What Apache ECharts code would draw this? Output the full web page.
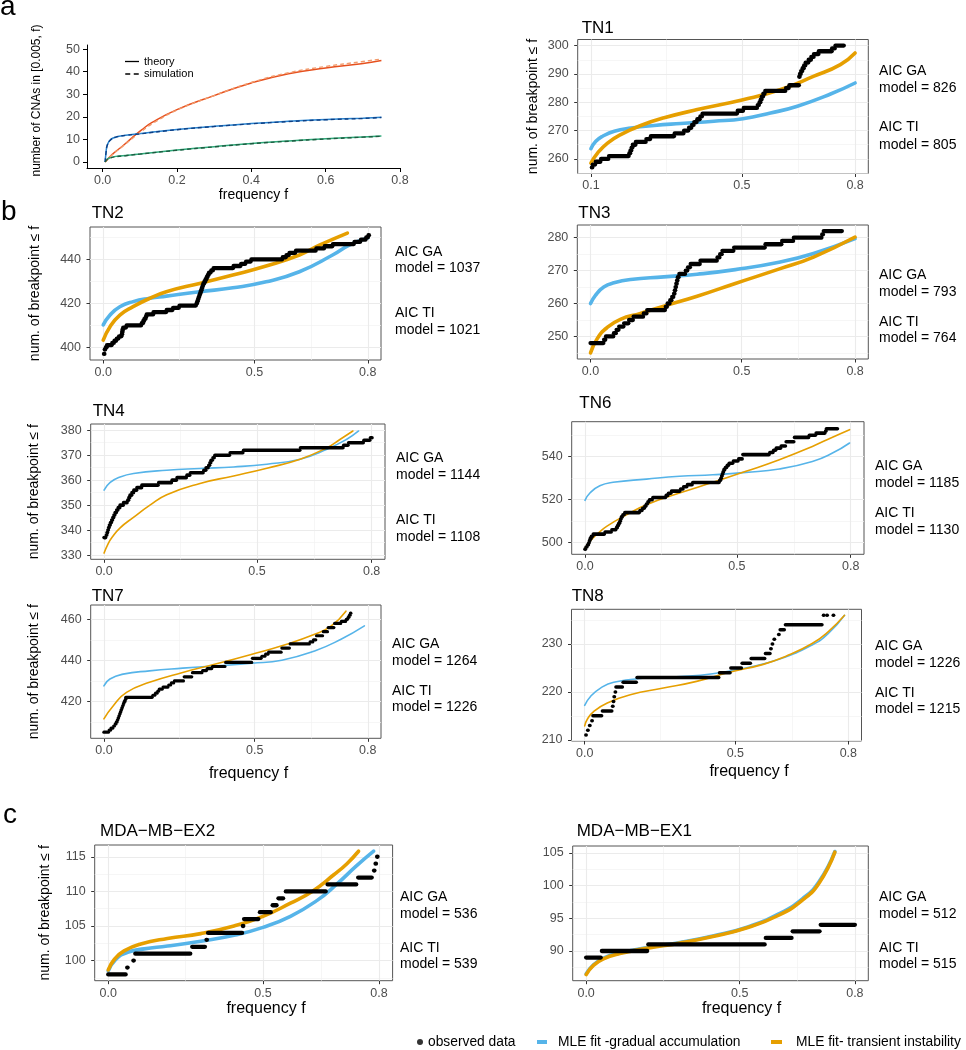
<!DOCTYPE html>
<html><head><meta charset="utf-8">
<script src="https://cdn.jsdelivr.net/npm/echarts@6/dist/echarts.min.js"></script>
<style>html,body{margin:0;padding:0;background:#fff}#c{width:966px;height:1050px}</style>
</head><body><div id="c"></div>
<script>
// ================= DATA =================
// ---- panel a ----
const aXTicks = [0, 0.2, 0.4, 0.6, 0.8];
const aYTicks = [0, 10, 20, 30, 40, 50];
const aTheoryOrange = [[0.007,0],[0.026,3.4],[0.053,7],[0.079,10.7],[0.105,14.2],[0.132,17.4],[0.2,23.2],[0.3,29.4],[0.4,35],[0.5,39.1],[0.6,41.6],[0.696,43.5],[0.75,44.9]];
const aSimOrange    = [[0.007,0],[0.026,3.2],[0.053,6.8],[0.079,10.3],[0.105,13.6],[0.132,16.8],[0.2,23],[0.3,29.4],[0.4,35.2],[0.5,39.5],[0.6,42.3],[0.696,44.4],[0.75,45.6]];
const aTheoryBlue   = [[0.007,0],[0.009,4],[0.013,7.8],[0.022,10],[0.035,11],[0.062,11.8],[0.097,12.5],[0.2,14.4],[0.3,15.8],[0.4,17],[0.5,18],[0.6,18.8],[0.7,19.4],[0.75,19.8]];
const aSimBlue      = [[0.007,0],[0.009,3.8],[0.013,7.6],[0.022,9.9],[0.035,11],[0.062,11.8],[0.097,12.4],[0.2,14.3],[0.3,15.7],[0.4,16.9],[0.5,17.9],[0.6,18.7],[0.7,19.3],[0.75,19.7]];
const aTheoryGreen  = [[0.007,0],[0.018,1.8],[0.062,2.9],[0.1,3.6],[0.2,5.3],[0.3,6.8],[0.4,8.2],[0.5,9.3],[0.6,10.3],[0.7,11.1],[0.75,11.5]];
const aSimGreen     = [[0.007,0],[0.018,1.7],[0.062,2.8],[0.1,3.5],[0.2,5.2],[0.3,6.7],[0.4,8.1],[0.5,9.2],[0.6,10.2],[0.7,11],[0.75,11.4]];

// ---- panels b / c : shared frequency ticks ----
const fTicks = [0.1, 0.5, 0.8];
const fTickLabelsTN1 = ['0.1', '0.5', '0.8'];
const fTickLabels = ['0.0', '0.5', '0.8'];
const fMinor = [0.3, 0.65];

// observed data: [f start, f end, count] runs of dots
const tn1YTicks = [260, 270, 280, 290, 300];
const tn1Obs = [[0.1026,0.1026,257],[0.105,0.111,258],[0.113,0.125,259],[0.127,0.146,260],[0.148,0.2,261],[0.202,0.204,262],[0.205,0.207,263],[0.208,0.21,264],[0.211,0.218,265],[0.219,0.245,266],[0.247,0.257,267],[0.259,0.32,268],[0.322,0.345,269],[0.347,0.358,270],[0.36,0.366,271],[0.368,0.372,272],[0.374,0.38,273],[0.382,0.388,274],[0.39,0.394,275],[0.396,0.487,276],[0.489,0.503,277],[0.505,0.54,278],[0.542,0.545,279],[0.547,0.549,280],[0.55,0.552,281],[0.553,0.556,282],[0.557,0.56,283],[0.562,0.615,284],[0.617,0.624,285],[0.626,0.651,286],[0.652,0.653,289],[0.654,0.656,290],[0.657,0.66,291],[0.661,0.664,292],[0.665,0.668,293],[0.669,0.676,294],[0.677,0.683,295],[0.684,0.69,296],[0.691,0.703,297],[0.704,0.738,298],[0.739,0.746,299],[0.748,0.77,300]];
const tn1GA = [[0.1,263.6],[0.113,266.2],[0.131,268],[0.162,269.8],[0.206,270.9],[0.2675,271.8],[0.338,272.5],[0.426,273.3],[0.503,274.2],[0.576,276.2],[0.647,278.6],[0.735,282.9],[0.8,286.8]];
const tn1TI = [[0.1,258.5],[0.118,262.1],[0.144,265.6],[0.179,268.6],[0.232,271.8],[0.294,274.5],[0.382,277.4],[0.503,280.9],[0.603,284.5],[0.691,289.2],[0.761,293.3],[0.8,297.4]];
const tn1AIC = ['AIC GA', 'model = 826', 'AIC TI', 'model = 805'];

const tn2YTicks = [400, 420, 440];
const tn2Obs = [[0.102,0.102,397],[0.104,0.105,399],[0.107,0.109,400],[0.11,0.122,401],[0.124,0.128,402],[0.13,0.134,403],[0.136,0.14,404],[0.142,0.148,405],[0.149,0.149,406],[0.15,0.15,407],[0.151,0.152,408],[0.153,0.16,409],[0.162,0.2,410],[0.202,0.205,411],[0.206,0.208,412],[0.209,0.212,413],[0.213,0.214,414],[0.215,0.232,415],[0.233,0.266,416],[0.268,0.283,417],[0.285,0.3,418],[0.302,0.345,419],[0.347,0.348,420],[0.349,0.35,421],[0.351,0.352,422],[0.353,0.354,423],[0.355,0.356,424],[0.357,0.358,425],[0.359,0.36,426],[0.361,0.362,427],[0.363,0.364,428],[0.365,0.367,429],[0.368,0.37,430],[0.371,0.373,431],[0.374,0.376,432],[0.377,0.379,433],[0.38,0.384,434],[0.386,0.39,435],[0.392,0.443,436],[0.445,0.463,437],[0.465,0.476,438],[0.478,0.49,439],[0.492,0.573,440],[0.575,0.583,441],[0.585,0.591,442],[0.593,0.608,443],[0.61,0.662,444],[0.664,0.684,445],[0.686,0.706,446],[0.708,0.763,447],[0.765,0.78,448],[0.782,0.794,449],[0.796,0.8,450],[0.802,0.802,451]];
const tn2GA = [[0.1,410.2],[0.118,414.7],[0.144,418.5],[0.179,420.8],[0.223,422.3],[0.267,423.3],[0.355,425.3],[0.443,427.1],[0.531,429.8],[0.619,434.4],[0.707,442],[0.751,446.5],[0.8,449.8]];
const tn2TI = [[0.1,403.3],[0.118,409.4],[0.144,414.7],[0.179,418.5],[0.223,422.3],[0.267,425.3],[0.355,429.1],[0.443,432.9],[0.531,437],[0.619,442],[0.672,446.5],[0.746,452]];
const tn2AIC = ['AIC GA', 'model = 1037', 'AIC TI', 'model = 1021'];

const tn3YTicks = [250, 260, 270, 280];
const tn3Obs = [[0.1,0.134,248],[0.136,0.139,249],[0.141,0.16,250],[0.162,0.167,251],[0.169,0.174,252],[0.176,0.187,253],[0.189,0.2,254],[0.202,0.212,255],[0.214,0.239,256],[0.241,0.248,257],[0.25,0.297,258],[0.299,0.302,259],[0.304,0.309,260],[0.311,0.314,261],[0.316,0.319,262],[0.321,0.322,263],[0.323,0.324,264],[0.325,0.326,265],[0.327,0.328,266],[0.329,0.33,267],[0.331,0.333,268],[0.335,0.35,269],[0.352,0.356,270],[0.358,0.363,271],[0.365,0.389,272],[0.391,0.434,273],[0.436,0.441,274],[0.443,0.447,275],[0.449,0.478,276],[0.48,0.561,277],[0.563,0.605,278],[0.607,0.636,279],[0.638,0.711,280],[0.713,0.715,281],[0.717,0.765,282]];
const tn3GA = [[0.1,260],[0.113,262.5],[0.135,265],[0.162,266.3],[0.206,267.3],[0.294,268.1],[0.382,268.9],[0.483,270.3],[0.602,272.6],[0.69,275.2],[0.8,279.7]];
const tn3TI = [[0.1,245],[0.118,249.4],[0.144,252.7],[0.179,255.2],[0.232,257],[0.294,259.2],[0.382,262.2],[0.483,266.1],[0.602,270.6],[0.69,274.1],[0.8,280.2]];
const tn3AIC = ['AIC GA', 'model = 793', 'AIC TI', 'model = 764'];

const tn4YTicks = [330, 340, 350, 360, 370, 380];
const tn4Obs = [[0.1,0.104,337],[0.106,0.107,338],[0.108,0.109,339],[0.11,0.111,340],[0.112,0.113,341],[0.114,0.116,342],[0.117,0.119,343],[0.12,0.122,344],[0.123,0.125,345],[0.126,0.128,346],[0.129,0.132,347],[0.133,0.136,348],[0.137,0.141,349],[0.142,0.15,350],[0.151,0.16,351],[0.162,0.164,352],[0.165,0.167,353],[0.168,0.172,354],[0.173,0.177,355],[0.178,0.185,356],[0.186,0.198,357],[0.199,0.241,358],[0.243,0.276,359],[0.278,0.289,360],[0.291,0.315,361],[0.317,0.324,362],[0.326,0.359,363],[0.361,0.366,364],[0.367,0.372,365],[0.374,0.376,366],[0.377,0.379,367],[0.38,0.383,368],[0.385,0.388,369],[0.39,0.428,370],[0.43,0.463,371],[0.465,0.612,372],[0.614,0.725,373],[0.727,0.738,374],[0.74,0.778,375],[0.78,0.795,376],[0.797,0.801,377]];
const tn4GA = [[0.1,356],[0.116,359.1],[0.142,361.3],[0.177,362.7],[0.264,364],[0.351,364.7],[0.439,365.3],[0.526,366.4],[0.613,368.4],[0.683,372.4],[0.735,376.4],[0.766,379.7]];
const tn4TI = [[0.1,330.8],[0.1105,334.5],[0.121,337.1],[0.142,340.9],[0.176,345],[0.22,350],[0.264,354.2],[0.351,358.7],[0.439,361.7],[0.526,364.8],[0.613,368.4],[0.683,373],[0.718,376.4],[0.751,379.7]];
const tn4AIC = ['AIC GA', 'model = 1144', 'AIC TI', 'model = 1108'];

const tn6YTicks = [500, 520, 540];
const tn6Obs = [[0.1,0.101,497],[0.103,0.105,498],[0.107,0.109,499],[0.11,0.111,500],[0.112,0.113,501],[0.114,0.116,502],[0.117,0.12,503],[0.122,0.151,504],[0.153,0.169,505],[0.171,0.181,506],[0.183,0.185,507],[0.186,0.188,508],[0.189,0.191,509],[0.192,0.193,510],[0.194,0.195,511],[0.196,0.198,512],[0.2,0.203,513],[0.205,0.243,514],[0.245,0.25,515],[0.252,0.256,516],[0.258,0.26,517],[0.262,0.264,518],[0.266,0.268,519],[0.27,0.277,520],[0.279,0.312,521],[0.314,0.318,522],[0.32,0.326,523],[0.328,0.35,524],[0.352,0.358,525],[0.36,0.368,526],[0.37,0.382,527],[0.384,0.453,528],[0.455,0.457,529],[0.458,0.459,530],[0.46,0.461,531],[0.462,0.463,532],[0.464,0.465,533],[0.466,0.468,534],[0.47,0.473,535],[0.475,0.478,536],[0.48,0.489,537],[0.491,0.503,538],[0.505,0.514,539],[0.516,0.585,541],[0.587,0.595,542],[0.597,0.602,543],[0.604,0.615,544],[0.617,0.628,545],[0.63,0.65,547],[0.652,0.689,549],[0.691,0.707,550],[0.709,0.732,551],[0.734,0.734,552],[0.736,0.765,553]];
const tn6GA = [[0.1,519.7],[0.113,523.1],[0.139,526.5],[0.174,528.1],[0.262,529.6],[0.349,530.9],[0.437,531.6],[0.524,532.7],[0.612,534.3],[0.699,537.8],[0.752,541.7],[0.797,546.4]];
const tn6TI = [[0.1,497.4],[0.115,501],[0.131,503.8],[0.157,507.6],[0.218,513.8],[0.262,517.7],[0.349,523.1],[0.437,528.1],[0.524,533.2],[0.612,538.6],[0.699,544.8],[0.752,549.1],[0.797,552.6]];
const tn6AIC = ['AIC GA', 'model = 1185', 'AIC TI', 'model = 1130'];

const tn7YTicks = [420, 440, 460];
const tn7Obs = [[0.1,0.112,405],[0.114,0.118,406],[0.119,0.124,407],[0.126,0.128,408],[0.13,0.132,409],[0.133,0.135,410],[0.136,0.137,411],[0.138,0.139,412],[0.14,0.141,413],[0.142,0.143,414],[0.144,0.145,415],[0.146,0.147,416],[0.148,0.149,417],[0.15,0.151,418],[0.152,0.153,419],[0.154,0.156,420],[0.157,0.157,421],[0.158,0.228,422],[0.23,0.235,423],[0.237,0.241,424],[0.243,0.245,425],[0.247,0.255,426],[0.257,0.27,427],[0.272,0.277,428],[0.279,0.285,429],[0.287,0.311,430],[0.313,0.333,432],[0.335,0.36,434],[0.362,0.372,435],[0.374,0.386,436],[0.388,0.421,437],[0.423,0.492,439],[0.494,0.517,441],[0.519,0.527,442],[0.529,0.535,443],[0.537,0.57,444],[0.572,0.592,446],[0.594,0.645,448],[0.647,0.654,449],[0.656,0.662,450],[0.664,0.68,452],[0.682,0.693,454],[0.695,0.71,456],[0.712,0.728,458],[0.73,0.741,459],[0.743,0.746,460],[0.748,0.75,461],[0.751,0.753,462],[0.754,0.755,463]];
const tn7GA = [[0.1,427.6],[0.116,430.9],[0.151,433.3],[0.221,434.9],[0.309,436.2],[0.396,437.3],[0.493,438.6],[0.572,440.1],[0.659,444.6],[0.729,450.3],[0.791,456.8]];
const tn7TI = [[0.1,411.5],[0.125,417.9],[0.16,424.4],[0.221,429.3],[0.309,434.1],[0.396,438.2],[0.493,443],[0.572,447.1],[0.659,452.7],[0.703,456.8],[0.742,464]];
const tn7AIC = ['AIC GA', 'model = 1264', 'AIC TI', 'model = 1226'];

const tn8YTicks = [210, 220, 230];
const tn8Obs = [[0.103,0.103,211],[0.108,0.109,212],[0.113,0.114,213],[0.119,0.12,214],[0.122,0.145,215],[0.147,0.172,216],[0.174,0.174,217],[0.176,0.176,218],[0.178,0.178,219],[0.181,0.181,220],[0.183,0.2,221],[0.202,0.237,222],[0.239,0.456,223],[0.458,0.486,224],[0.488,0.516,225],[0.518,0.54,226],[0.542,0.578,227],[0.58,0.592,228],[0.594,0.594,229],[0.598,0.598,230],[0.603,0.603,231],[0.615,0.615,232],[0.619,0.63,233],[0.633,0.73,234],[0.734,0.734,236],[0.743,0.743,236],[0.76,0.76,236]];
const tn8GA = [[0.1,217.2],[0.116,219.1],[0.142,220.8],[0.177,222],[0.265,222.9],[0.353,223.2],[0.44,223.8],[0.528,225],[0.616,226.8],[0.704,229.8],[0.747,232.2],[0.79,236]];
const tn8TI = [[0.1,212.9],[0.107,214.3],[0.125,216],[0.16,217.7],[0.221,219.4],[0.309,220.8],[0.397,222.2],[0.484,224.1],[0.572,225.7],[0.633,227.4],[0.704,230.1],[0.747,232.6],[0.79,236]];
const tn8AIC = ['AIC GA', 'model = 1226', 'AIC TI', 'model = 1215'];

const ex2YTicks = [100, 105, 110, 115];
const ex2Obs = [[0.1,0.145,98],[0.149,0.149,99],[0.165,0.165,100],[0.17,0.312,101],[0.317,0.35,102],[0.354,0.354,103],[0.358,0.446,104],[0.448,0.448,105],[0.451,0.488,106],[0.492,0.52,107],[0.525,0.535,108],[0.54,0.552,109],[0.559,0.662,110],[0.667,0.741,111],[0.746,0.781,112],[0.787,0.787,113],[0.791,0.791,114],[0.795,0.795,115]];
const ex2GA = [[0.1,98.5],[0.12,100.2],[0.15,101.2],[0.193,101.7],[0.253,102.1],[0.339,102.8],[0.425,103.65],[0.5,104.8],[0.571,106.4],[0.64,108.7],[0.69,111],[0.74,113.6],[0.786,115.8]];
const ex2TI = [[0.1,98.65],[0.116,100.2],[0.141,101.4],[0.184,102.4],[0.253,103.2],[0.339,103.9],[0.425,105],[0.5,106.4],[0.571,108.3],[0.627,110],[0.683,112.4],[0.717,114],[0.747,115.8]];
const ex2AIC = ['AIC GA', 'model = 536', 'AIC TI', 'model = 539'];

const ex1YTicks = [90, 95, 100, 105];
const ex1Obs = [[0.1,0.138,89],[0.141,0.259,90],[0.262,0.565,91],[0.568,0.635,92],[0.638,0.708,93],[0.711,0.8,94]];
const ex1GA = [[0.1,86.5],[0.119,87.9],[0.145,88.9],[0.188,89.7],[0.257,90.5],[0.344,91.3],[0.43,92.3],[0.517,93.6],[0.603,95.7],[0.664,98],[0.707,100.6],[0.748,105.2]];
const ex1TI = [[0.1,86.4],[0.119,87.8],[0.145,88.8],[0.188,89.6],[0.257,90.4],[0.344,91.2],[0.43,92.2],[0.517,93.5],[0.603,95.5],[0.664,97.8],[0.707,100.4],[0.748,105.1]];
const ex1AIC = ['AIC GA', 'model = 512', 'AIC TI', 'model = 515'];

const panelNames = ['TN1', 'TN2', 'TN3', 'TN4', 'TN6', 'TN7', 'TN8', 'MDA\u2212MB\u2212EX2', 'MDA\u2212MB\u2212EX1'];
const legendNames = ['observed data', 'MLE fit -gradual accumulation', 'MLE fit- transient instability'];

// ================= LAYOUT / STYLE =================
const FONT = '"Liberation Sans", Arial, Helvetica, sans-serif';
const GA_COLOR = '#56B4E9', TI_COLOR = '#E69F00';
const YNAME = 'num. of breakpoint \u2264 f';

const panels = [
  {obs: tn1Obs, ga: tn1GA, ti: tn1TI, yT: tn1YTicks, aic: tn1AIC, xl: fTickLabelsTN1,
   g: [577.7, 39.5, 290.6, 134], y: [254.85, 302.15], t: [581.7, 28.3], a: [879, [71, 88.3, 127, 145]], yGap: 38, fw: 3.6, ow: 4.3},
  {obs: tn2Obs, ga: tn2GA, ti: tn2TI, yT: tn2YTicks, aic: tn2AIC, xl: fTickLabels,
   g: [90, 227, 291, 133], y: [394.25, 454.75], t: [91.7, 213.3], a: [395, [251.7, 268.3, 313.3, 330]], yGap: 48, fw: 3.6, ow: 4.3},
  {obs: tn3Obs, ga: tn3GA, ti: tn3TI, yT: tn3YTicks, aic: tn3AIC, xl: fTickLabels,
   g: [577.3, 225, 291, 134], y: [243.15, 283.85], t: [578.3, 213.3], a: [879, [275, 291.7, 321.7, 338.3]], fw: 3.6, ow: 4.3},
  {obs: tn4Obs, ga: tn4GA, ti: tn4TI, yT: tn4YTicks, aic: tn4AIC, xl: fTickLabels,
   g: [90.7, 424, 294.3, 135.3], y: [328.3, 382.5], t: [92.7, 411.7], a: [396, [458.3, 475, 520, 536.7]], yGap: 50, fw: 1.6, ow: 3.6},
  {obs: tn6Obs, ga: tn6GA, ti: tn6TI, yT: tn6YTicks, aic: tn6AIC, xl: fTickLabels,
   g: [571.7, 421.7, 292.3, 132.6], y: [494.6, 556.3], t: [579.3, 403.3], a: [875, [466, 483.3, 512.7, 530]], fw: 1.6, ow: 3.6},
  {obs: tn7Obs, ga: tn7GA, ti: tn7TI, yT: tn7YTicks, aic: tn7AIC, xl: fTickLabels,
   g: [90.7, 605, 290.3, 133.3], y: [402, 467], t: [91.7, 596.7], a: [392, [644, 660.7, 690.7, 707.3]], yGap: 50, xName: [248.5, 775], fw: 1.6, ow: 3.2},
  {obs: tn8Obs, ga: tn8GA, ti: tn8TI, yT: tn8YTicks, aic: tn8AIC, xl: fTickLabels,
   g: [571.5, 609.3, 290, 131.7], y: [209.75, 237.25], t: [571.7, 596], a: [875, [646, 662.7, 692.7, 709.3]], xName: [749, 772.7], fw: 1.6, ow: 3.5},
  {obs: ex2Obs, ga: ex2GA, ti: ex2TI, yT: ex2YTicks, aic: ex2AIC, xl: fTickLabels,
   g: [94.7, 845, 297.9, 135.7], y: [97.1, 116.7], t: [100, 831.7], a: [400, [896.7, 914, 948.3, 964]], yGap: 43, xName: [266, 1009.3], fw: 3.6, ow: 4.3},
  {obs: ex1Obs, ga: ex1GA, ti: ex1TI, yT: ex1YTicks, aic: ex1AIC, xl: fTickLabels,
   g: [572.7, 846, 295.6, 134.7], y: [85.46, 106.04], t: [576.7, 831.7], a: [879, [896.7, 914, 948.3, 964]], xName: [741.5, 1009.3], fw: 3.6, ow: 4.3}
];

// ================= BUILD =================
const grid = [], xAxis = [], yAxis = [], series = [], graphic = [];

// ---- panel a ----
grid.push({left: 87, top: 45, width: 313, height: 123, show: false});
xAxis.push({
  type: 'value', gridIndex: 0, min: -0.042, max: 0.8,
  axisLine: {show: true, onZero: false, lineStyle: {color: '#000', width: 1}},
  axisTick: {show: true, length: 4, lineStyle: {color: '#000'}, customValues: aXTicks},
  axisLabel: {customValues: aXTicks, formatter: v => v.toFixed(1), margin: 6, fontSize: 12.5, color: '#4d4d4d', fontFamily: FONT},
  splitLine: {show: false},
  name: 'frequency f', nameLocation: 'middle', nameGap: 20,
  nameTextStyle: {fontSize: 14, color: '#000', fontFamily: FONT, padding: [0, 0, 0, 20]}
});
yAxis.push({
  type: 'value', gridIndex: 0, min: -2.65, max: 51.8,
  axisLine: {show: true, onZero: false, lineStyle: {color: '#000', width: 1}},
  axisTick: {show: true, length: 4, lineStyle: {color: '#000'}, customValues: aYTicks},
  axisLabel: {customValues: aYTicks, margin: 7, fontSize: 12.5, color: '#4d4d4d', fontFamily: FONT},
  splitLine: {show: false},
  name: 'number of CNAs in [0.005, f)', nameLocation: 'middle', nameGap: 44,
  nameTextStyle: {fontSize: 12, color: '#000', fontFamily: FONT, padding: [0, 0, 0, 12]}
});
function aLine(data, color, dashed, z) {
  series.push({type: 'line', xAxisIndex: 0, yAxisIndex: 0, data, smooth: 0.5,
    showSymbol: false, symbol: 'none', silent: true, z,
    lineStyle: {color, width: dashed ? 1.4 : 1.5, type: dashed ? [4, 3] : 'solid'}});
}
aLine(aTheoryOrange, '#E6501E', false, 2); aLine(aSimOrange, '#F29A6B', true, 3);
aLine(aTheoryBlue, '#2A84CF', false, 2);   aLine(aSimBlue, '#0D3F85', true, 3);
aLine(aTheoryGreen, '#2FA97A', false, 2);  aLine(aSimGreen, '#1C5B40', true, 3);
// legend dummy series for panel a
series.push({type: 'line', name: 'theory', xAxisIndex: 0, yAxisIndex: 0, data: [], symbol: 'none', lineStyle: {color: '#000', width: 1.2}, itemStyle: {color: '#000'}});
series.push({type: 'line', name: 'simulation', xAxisIndex: 0, yAxisIndex: 0, data: [], symbol: 'none', lineStyle: {color: '#000', width: 1.2, type: [4, 3]}, itemStyle: {color: '#000'}});
// bottom legend dummy series
series.push({type: 'scatter', name: legendNames[0], xAxisIndex: 0, yAxisIndex: 0, data: [], itemStyle: {color: '#000'}});
series.push({type: 'line', name: legendNames[1], xAxisIndex: 0, yAxisIndex: 0, data: [], symbol: 'none', itemStyle: {color: GA_COLOR}, lineStyle: {color: GA_COLOR, width: 4}});
series.push({type: 'line', name: legendNames[2], xAxisIndex: 0, yAxisIndex: 0, data: [], symbol: 'none', itemStyle: {color: TI_COLOR}, lineStyle: {color: TI_COLOR, width: 4}});

function runRenderer(w) {
  return function (params, api) {
    const n = api.value(2);
    const p0 = api.coord([api.value(0), n]);
    const p1 = api.coord([api.value(1), n]);
    let x2 = p1[0];
    if (x2 - p0[0] < 0.4) x2 = p0[0] + 0.4;
    return {type: 'line', shape: {x1: p0[0], y1: p0[1], x2: x2, y2: p1[1]},
      style: {stroke: '#000', lineWidth: w, lineCap: 'round'}};
  };
}

panels.forEach((p, k) => {
  const gi = k + 1;
  grid.push({left: p.g[0], top: p.g[1], width: p.g[2], height: p.g[3], show: true,
    borderColor: '#555', borderWidth: 1, backgroundColor: 'transparent'});
  const labels = p.xl;
  const xa = {
    type: 'value', gridIndex: gi, min: 0.065, max: 0.835,
    axisLine: {show: false},
    axisTick: {show: true, length: 3.5, lineStyle: {color: '#333'}, customValues: fTicks},
    axisLabel: {customValues: fTicks, margin: 6, fontSize: 12.5, color: '#4d4d4d', fontFamily: FONT,
      formatter: v => { let bi = 0; fTicks.forEach((t, i) => { if (Math.abs(t - v) < Math.abs(fTicks[bi] - v)) bi = i; }); return labels[bi]; }},
    splitLine: {show: false}
  };
  if (p.xName) {
    const gc = p.g[0] + p.g[2] / 2;
    const shift = p.xName[0] - gc;
    xa.name = 'frequency f'; xa.nameLocation = 'middle';
    xa.nameGap = p.xName[1] - (p.g[1] + p.g[3]) - 9;
    xa.nameTextStyle = {fontSize: 16, color: '#000', fontFamily: FONT, padding: [0, 0, 0, 2 * shift]};
  }
  xAxis.push(xa);
  const ya = {
    type: 'value', gridIndex: gi, min: p.y[0], max: p.y[1],
    axisLine: {show: false},
    axisTick: {show: true, length: 3.5, lineStyle: {color: '#333'}, customValues: p.yT},
    axisLabel: {customValues: p.yT, margin: 9, fontSize: 12.5, color: '#4d4d4d', fontFamily: FONT},
    splitLine: {show: false}
  };
  if (p.yGap) {
    ya.name = YNAME; ya.nameLocation = 'middle'; ya.nameGap = p.yGap;
    ya.nameTextStyle = {fontSize: 14, color: '#000', fontFamily: FONT};
  }
  yAxis.push(ya);

  // grid lines (major at ticks, minor midway) through the axes' scales
  const step = p.yT[1] - p.yT[0];
  const yMinor = [];
  for (let v = p.yT[0] - step / 2; v < p.y[1]; v += step) if (v > p.y[0]) yMinor.push(v);
  const major = {color: '#EBEBEB', width: 1.1, type: 'solid'};
  const minor = {color: '#F2F2F2', width: 0.7, type: 'solid'};
  const ml = [];
  fMinor.forEach(v => ml.push({xAxis: v, lineStyle: minor}));
  yMinor.forEach(v => ml.push({yAxis: v, lineStyle: minor}));
  fTicks.forEach(v => ml.push({xAxis: v, lineStyle: major}));
  p.yT.forEach(v => { if (v > p.y[0] && v < p.y[1]) ml.push({yAxis: v, lineStyle: major}); });
  series.push({type: 'line', xAxisIndex: gi, yAxisIndex: gi, data: [], silent: true, z: 1,
    markLine: {silent: true, symbol: ['none', 'none'], label: {show: false}, z: 1, animation: false,
      emphasis: {disabled: true}, data: ml}});

  series.push({type: 'line', xAxisIndex: gi, yAxisIndex: gi, data: p.ga, smooth: 0.5,
    showSymbol: false, symbol: 'none', silent: true, z: 3, lineStyle: {color: GA_COLOR, width: p.fw, cap: 'round'}});
  series.push({type: 'line', xAxisIndex: gi, yAxisIndex: gi, data: p.ti, smooth: 0.5,
    showSymbol: false, symbol: 'none', silent: true, z: 4, lineStyle: {color: TI_COLOR, width: p.fw, cap: 'round'}});
  series.push({type: 'custom', xAxisIndex: gi, yAxisIndex: gi, data: p.obs, silent: true, z: 5, clip: false,
    encode: {x: [0, 1], y: 2}, renderItem: runRenderer(p.ow)});

  // title and AIC annotations
  graphic.push({type: 'text', x: p.t[0], y: p.t[1], silent: true,
    style: {text: panelNames[k], font: '17px ' + FONT, fill: '#000', align: 'left', verticalAlign: 'middle'}});
  p.aic.forEach((s, i) => graphic.push({type: 'text', x: p.a[0], y: p.a[1][i], silent: true,
    style: {text: s, font: '14px ' + FONT, fill: '#000', align: 'left', verticalAlign: 'middle'}}));
});

// panel letters
[['a', 0, 7.5], ['b', 1, 212.5], ['c', 3, 815.5]].forEach(([t, x, y]) =>
  graphic.push({type: 'text', x, y, silent: true,
    style: {text: t, font: '28px ' + FONT, fill: '#000', align: 'left', verticalAlign: 'middle'}}));

const legend = [
  {data: [{name: 'theory', icon: 'path://M0,0H14V1.3H0Z'},
          {name: 'simulation', icon: 'path://M0,0H5V1.3H0Z M8.5,0H13.5V1.3H8.5Z'}],
   orient: 'vertical', left: 125, top: 56, padding: 0, itemWidth: 14, itemHeight: 1.3, itemGap: 1.5,
   selectedMode: false, textStyle: {fontSize: 11, color: '#000', fontFamily: FONT}},
  {data: [{name: legendNames[0], icon: 'circle'}], left: 417, top: 1035, padding: 0, itemWidth: 6, itemHeight: 6,
   selectedMode: false, textStyle: {fontSize: 13.8, color: '#000', fontFamily: FONT}},
  {data: [{name: legendNames[1], icon: 'rect'}], left: 537, top: 1035, padding: 0, itemWidth: 10, itemHeight: 4,
   selectedMode: false, textStyle: {fontSize: 13.8, color: '#000', fontFamily: FONT, padding: [0, 0, 0, 6]}},
  {data: [{name: legendNames[2], icon: 'rect'}], left: 771, top: 1035, padding: 0, itemWidth: 11, itemHeight: 4,
   selectedMode: false, textStyle: {fontSize: 13.8, color: '#000', fontFamily: FONT, padding: [0, 0, 0, 9]}}
];

const chart = echarts.init(document.getElementById('c'), null, {renderer: 'canvas', width: 966, height: 1050});
chart.setOption({
  backgroundColor: '#ffffff',
  animation: false,
  textStyle: {fontFamily: FONT},
  grid, xAxis, yAxis, series, legend, graphic
});
</script>
</body></html>
